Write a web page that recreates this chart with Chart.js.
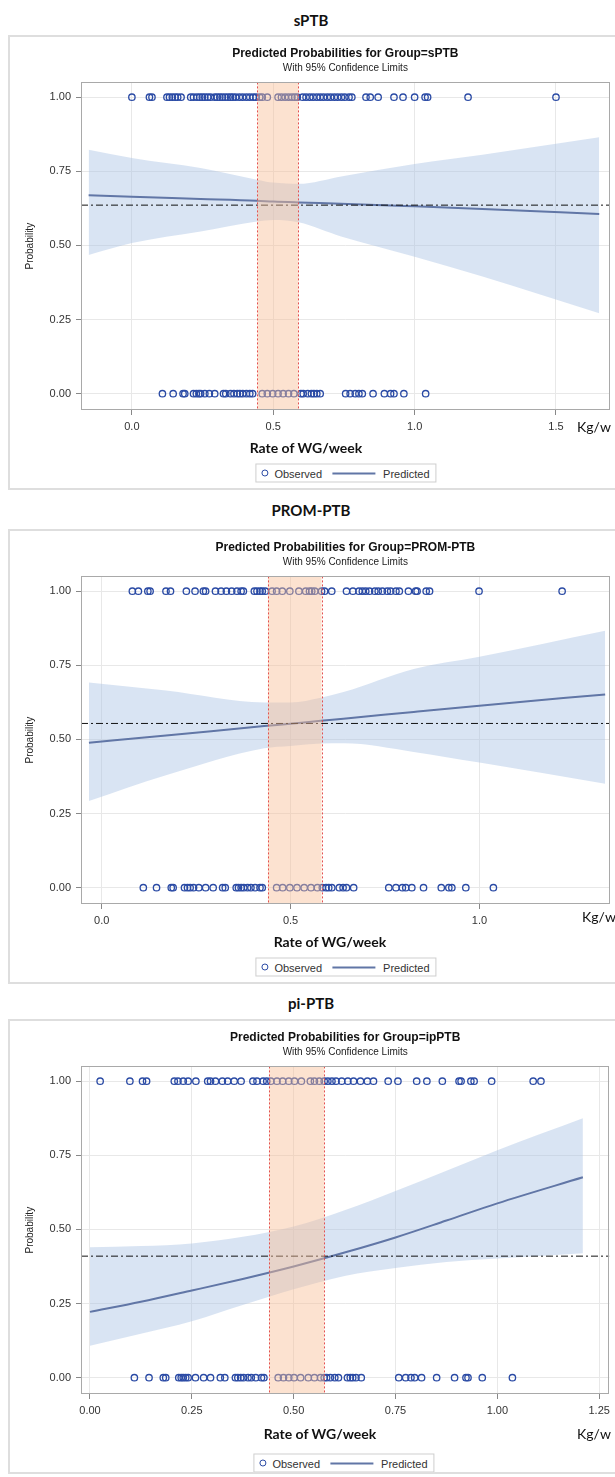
<!DOCTYPE html>
<html>
<head>
<meta charset="utf-8">
<script src="https://cdn.jsdelivr.net/npm/chart.js@4.4.0/dist/chart.umd.min.js"></script>
<style>
  body {
    margin: 0;
    width: 615px;
    height: 1477px;
    overflow: hidden;
    background: #fff;
    position: relative;
    font-family: "Liberation Sans", Arial, sans-serif;
  }
  .heading {
    position: absolute;
    left: 0;
    width: 622px;
    text-align: center;
    font-family: Lato, "Open Sans", sans-serif;
    font-weight: 700;
    font-size: 15px;
    line-height: 18px;
    color: #111;
  }
  .panel {
    position: absolute;
    left: 8px;
    width: 620px;
    height: 455px;
    border: 2px solid #dedede;
    box-sizing: border-box;
  }
  canvas {
    position: absolute;
    left: 8px;
  }
  .xtitle {
    position: absolute;
    transform: translate(-50%, -50%);
    font-family: Lato, sans-serif;
    font-weight: 700;
    font-size: 14px;
    color: #111;
    white-space: nowrap;
  }
  .unit {
    position: absolute;
    transform: translateY(-50%);
    font-family: Lato, sans-serif;
    font-size: 14px;
    color: #111;
  }
  .legend {
    position: absolute;
    transform: translate(-50%, -50%);
    display: flex;
    align-items: center;
    height: 17px;
    padding: 0 6px 0 5px;
    border: 1px solid #cfcfcf;
    font-size: 11px;
    color: #333;
    background: #fff;
    white-space: nowrap;
  }
  .legend .dot {
    width: 5px;
    height: 5px;
    border: 1.4px solid #2b4ba5;
    border-radius: 50%;
    margin-right: 6px;
  }
  .legend .line {
    width: 43px;
    height: 2px;
    background: #6176a6;
    margin: 0 8px 0 10px;
  }
</style>
</head>
<body>

<div class="heading" style="top:11px">sPTB</div>
<div class="panel" style="top:35px"></div>
<canvas id="sptbChart" width="607" height="455" style="top:35px"></canvas>
<div class="xtitle" style="left:306px; top:447px">Rate of WG/week</div>
<div class="unit" style="left:577px; top:426px">Kg/w</div>
<div class="legend" style="left:346px; top:473px"><span class="dot"></span>Observed<span class="line"></span>Predicted</div>

<div class="heading" style="top:501px">PROM-PTB</div>
<div class="panel" style="top:529px"></div>
<canvas id="promChart" width="607" height="455" style="top:529px"></canvas>
<div class="xtitle" style="left:330px; top:941px">Rate of WG/week</div>
<div class="unit" style="left:582px; top:916px">Kg/w</div>
<div class="legend" style="left:346px; top:967px"><span class="dot"></span>Observed<span class="line"></span>Predicted</div>

<div class="heading" style="top:994px">pi-PTB</div>
<div class="panel" style="top:1019px"></div>
<canvas id="ipChart" width="607" height="455" style="top:1019px"></canvas>
<div class="xtitle" style="left:320px; top:1433px">Rate of WG/week</div>
<div class="unit" style="left:577px; top:1433px">Kg/w</div>
<div class="legend" style="left:344px; top:1463px"><span class="dot"></span>Observed<span class="line"></span>Predicted</div>

<script>
// shared y axis
const probTicks = [0, 0.25, 0.5, 0.75, 1];
const probLabels = ["0.00", "0.25", "0.50", "0.75", "1.00"];

// sPTB
const sptbCurveX = [-0.153, 0, 0.243, 0.442, 0.5, 0.59, 0.74, 1.0, 1.24, 1.653];
const sptbPred = [0.669, 0.664, 0.657, 0.651, 0.648, 0.645, 0.641, 0.632, 0.623, 0.606];
const sptbUpper = [0.823, 0.795, 0.761, 0.722, 0.712, 0.708, 0.733, 0.775, 0.806, 0.865];
const sptbLower = [0.468, 0.508, 0.547, 0.581, 0.586, 0.578, 0.53, 0.462, 0.395, 0.271];
const sptbObs1 = [0, 0.062, 0.071, 0.124, 0.133, 0.143, 0.153, 0.162, 0.174, 0.208, 0.218, 0.23,
  0.24, 0.249, 0.258, 0.268, 0.278, 0.293, 0.302, 0.311, 0.32, 0.33, 0.34, 0.349, 0.357, 0.367,
  0.38, 0.392, 0.405, 0.417, 0.429, 0.439, 0.452, 0.461, 0.479, 0.517, 0.529, 0.542, 0.554,
  0.566, 0.576, 0.585, 0.604, 0.616, 0.629, 0.641, 0.654, 0.666, 0.678, 0.691, 0.703, 0.716,
  0.728, 0.741, 0.753, 0.768, 0.778, 0.828, 0.843, 0.871, 0.927, 0.959, 1.0, 1.037, 1.046,
  1.189, 1.5];
const sptbObs0 = [0.108, 0.146, 0.181, 0.187, 0.218, 0.228, 0.237, 0.243, 0.258, 0.274, 0.293,
  0.324, 0.332, 0.349, 0.361, 0.373, 0.382, 0.392, 0.405, 0.417, 0.427, 0.461, 0.479, 0.498,
  0.517, 0.535, 0.554, 0.573, 0.598, 0.606, 0.622, 0.635, 0.644, 0.654, 0.666, 0.756, 0.772,
  0.79, 0.803, 0.815, 0.853, 0.893, 0.915, 0.927, 0.962, 1.039];
const sptbRef = 0.636;
const sptbShade = [0.444, 0.589];
const sptbXRange = [-0.18, 1.69];
const sptbXTicks = [0, 0.5, 1.0, 1.5];
const sptbXLabels = ["0.0", "0.5", "1.0", "1.5"];

// PROM-PTB
const promCurveX = [-0.034, 0.17, 0.43, 0.5, 0.58, 0.64, 0.826, 1.0, 1.333];
const promPred = [0.489, 0.513, 0.545, 0.553, 0.563, 0.57, 0.593, 0.614, 0.652];
const promUpper = [0.692, 0.665, 0.625, 0.625, 0.641, 0.66, 0.738, 0.779, 0.867];
const promLower = [0.292, 0.379, 0.47, 0.478, 0.486, 0.487, 0.458, 0.422, 0.351];
const promObs1 = [0.081, 0.097, 0.122, 0.128, 0.17, 0.182, 0.224, 0.247, 0.269, 0.275, 0.301,
  0.316, 0.33, 0.344, 0.358, 0.369, 0.375, 0.404, 0.411, 0.419, 0.425, 0.433, 0.451, 0.463,
  0.478, 0.498, 0.522, 0.54, 0.55, 0.556, 0.564, 0.582, 0.59, 0.609, 0.648, 0.665, 0.681,
  0.69, 0.699, 0.709, 0.723, 0.732, 0.743, 0.756, 0.765, 0.779, 0.788, 0.812, 0.831, 0.835,
  0.859, 0.868, 0.999, 1.219];
const promObs0 = [0.11, 0.145, 0.184, 0.189, 0.219, 0.227, 0.234, 0.243, 0.257, 0.275, 0.295,
  0.32, 0.327, 0.356, 0.362, 0.369, 0.376, 0.386, 0.395, 0.406, 0.419, 0.425, 0.463, 0.479,
  0.498, 0.517, 0.536, 0.554, 0.571, 0.584, 0.594, 0.601, 0.609, 0.629, 0.639, 0.648, 0.667,
  0.76, 0.779, 0.796, 0.805, 0.821, 0.852, 0.899, 0.919, 0.927, 0.964, 1.037];
const promRef = 0.554;
const promShade = [0.44, 0.582];
const promXRange = [-0.055, 1.345];
const promXTicks = [0, 0.5, 1.0];
const promXLabels = ["0.0", "0.5", "1.0"];

// pi-PTB (Group=ipPTB)
const ipCurveX = [0, 0.125, 0.25, 0.375, 0.5, 0.625, 0.75, 0.875, 1.0, 1.21];
const ipPred = [0.222, 0.256, 0.294, 0.333, 0.375, 0.422, 0.473, 0.53, 0.588, 0.676];
const ipUpper = [0.44, 0.444, 0.453, 0.475, 0.51, 0.565, 0.63, 0.698, 0.767, 0.875];
const ipLower = [0.108, 0.148, 0.19, 0.245, 0.298, 0.343, 0.37, 0.39, 0.402, 0.42];
const ipObs1 = [0.025, 0.098, 0.129, 0.139, 0.207, 0.216, 0.229, 0.241, 0.26, 0.289, 0.296,
  0.308, 0.325, 0.338, 0.354, 0.371, 0.4, 0.41, 0.425, 0.434, 0.444, 0.459, 0.473, 0.488,
  0.502, 0.519, 0.541, 0.551, 0.563, 0.575, 0.584, 0.594, 0.604, 0.618, 0.633, 0.647, 0.664,
  0.681, 0.696, 0.732, 0.756, 0.802, 0.827, 0.865, 0.906, 0.911, 0.935, 0.943, 0.986, 1.088,
  1.107];
const ipObs0 = [0.109, 0.145, 0.18, 0.186, 0.218, 0.224, 0.229, 0.235, 0.241, 0.259, 0.279,
  0.296, 0.32, 0.331, 0.357, 0.363, 0.37, 0.377, 0.388, 0.396, 0.407, 0.421, 0.427, 0.462,
  0.475, 0.488, 0.501, 0.517, 0.536, 0.551, 0.566, 0.575, 0.581, 0.59, 0.601, 0.61, 0.632,
  0.639, 0.645, 0.653, 0.666, 0.758, 0.775, 0.788, 0.797, 0.814, 0.851, 0.895, 0.923, 0.928,
  0.963, 1.037];
const ipRef = 0.41;
const ipShade = [0.44, 0.575];
const ipXRange = [-0.022, 1.275];
const ipXTicks = [0, 0.25, 0.5, 0.75, 1.0, 1.25];
const ipXLabels = ["0.00", "0.25", "0.50", "0.75", "1.00", "1.25"];

const sasFont = "'Liberation Sans', Arial, sans-serif";

// orange band between the two red dashed lines + the plot frame
const shadePlugin = {
  id: "rateShade",
  afterDatasetsDraw(chart, args, opts) {
    const { ctx, chartArea, scales } = chart;
    const x0 = scales.x.getPixelForValue(opts.range[0]);
    const x1 = scales.x.getPixelForValue(opts.range[1]);
    ctx.save();
    ctx.fillStyle = "rgba(248, 190, 150, 0.45)";
    ctx.fillRect(x0, chartArea.top, x1 - x0, chartArea.bottom - chartArea.top);
    ctx.strokeStyle = "#e4504f";
    ctx.lineWidth = 1;
    ctx.setLineDash([2, 2]);
    [x0, x1].forEach((x) => {
      ctx.beginPath();
      ctx.moveTo(Math.round(x) + 0.5, chartArea.top);
      ctx.lineTo(Math.round(x) + 0.5, chartArea.bottom);
      ctx.stroke();
    });
    ctx.setLineDash([]);
    ctx.strokeStyle = "#a9a9a9";
    ctx.strokeRect(
      Math.round(chartArea.left) + 0.5,
      Math.round(chartArea.top) + 0.5,
      Math.round(chartArea.width) - 1,
      Math.round(chartArea.height) - 1
    );
    ctx.restore();
  },
};

function toPoints(xs, ys) {
  return xs.map((x, i) => ({ x: x, y: ys[i] }));
}

function makeChart(id, p) {
  new Chart(document.getElementById(id), {
    type: "line",
    data: {
      datasets: [
        {
          label: "Upper",
          data: toPoints(p.curveX, p.upper),
          borderWidth: 0,
          pointRadius: 0,
          backgroundColor: "rgba(170, 195, 228, 0.45)",
          fill: "+1",
          cubicInterpolationMode: "monotone",
          order: 5,
        },
        {
          label: "Lower",
          data: toPoints(p.curveX, p.lower),
          borderWidth: 0,
          pointRadius: 0,
          fill: false,
          cubicInterpolationMode: "monotone",
          order: 5,
        },
        {
          label: "Predicted",
          data: toPoints(p.curveX, p.pred),
          borderColor: "#6176a6",
          borderWidth: 2,
          pointRadius: 0,
          fill: false,
          cubicInterpolationMode: "monotone",
          order: 3,
        },
        {
          label: "Reference",
          data: toPoints(p.xRange, [p.ref, p.ref]),
          borderColor: "#111",
          borderWidth: 1,
          borderDash: [7, 3, 2, 3],
          pointRadius: 0,
          fill: false,
          order: 2,
        },
        {
          label: "Observed",
          data: p.obs1.map((x) => ({ x: x, y: 1 })),
          showLine: false,
          pointRadius: 3.2,
          pointBorderWidth: 1.3,
          pointBorderColor: "#2b4ba5",
          pointBackgroundColor: "rgba(255,255,255,0)",
          order: 1,
        },
        {
          label: "Observed0",
          data: p.obs0.map((x) => ({ x: x, y: 0 })),
          showLine: false,
          pointRadius: 3.2,
          pointBorderWidth: 1.3,
          pointBorderColor: "#2b4ba5",
          pointBackgroundColor: "rgba(255,255,255,0)",
          order: 1,
        },
      ],
    },
    options: {
      responsive: false,
      animation: false,
      devicePixelRatio: 1,
      layout: { padding: { top: 0, right: 3, bottom: 18, left: 0 } },
      scales: {
        x: {
          type: "linear",
          min: p.xRange[0],
          max: p.xRange[1],
          afterBuildTicks: (s) => {
            s.ticks = p.xTicks.map((v) => ({ value: v }));
          },
          afterFit: (s) => {
            s.height = 62;
          },
          ticks: {
            callback: (v, i) => p.xLabels[i],
            color: "#333",
            font: { size: 11, family: sasFont },
            padding: 5,
            maxRotation: 0,
            autoSkip: false,
          },
          grid: { color: "#e8e8e8", tickColor: "#888", tickLength: 5 },
          border: { display: false },
        },
        y: {
          min: -0.055,
          max: 1.05,
          afterBuildTicks: (s) => {
            s.ticks = probTicks.map((v) => ({ value: v }));
          },
          afterFit: (s) => {
            s.width = 73;
          },
          ticks: {
            callback: (v, i) => probLabels[i],
            color: "#333",
            font: { size: 11, family: sasFont },
            padding: 5,
          },
          grid: { color: "#e8e8e8", tickColor: "#888", tickLength: 5 },
          border: { display: false },
          title: {
            display: true,
            text: "Probability",
            color: "#222",
            font: { size: 10, family: sasFont },
            padding: { top: 16, bottom: 0 },
          },
        },
      },
      plugins: {
        legend: { display: false },
        tooltip: { enabled: false },
        title: {
          display: true,
          fullSize: false,
          text: p.title,
          color: "#111",
          font: { size: 12, weight: "bold", family: sasFont },
          padding: { top: 11, bottom: 1 },
        },
        subtitle: {
          display: true,
          fullSize: false,
          text: "With 95% Confidence Limits",
          color: "#222",
          font: { size: 10, family: sasFont },
          padding: { top: 1, bottom: 8 },
        },
        rateShade: { range: p.shade },
      },
    },
    plugins: [shadePlugin],
  });
}

makeChart("sptbChart", {
  title: "Predicted Probabilities for Group=sPTB",
  curveX: sptbCurveX, pred: sptbPred, upper: sptbUpper, lower: sptbLower,
  obs1: sptbObs1, obs0: sptbObs0, ref: sptbRef, shade: sptbShade,
  xRange: sptbXRange, xTicks: sptbXTicks, xLabels: sptbXLabels,
});

makeChart("promChart", {
  title: "Predicted Probabilities for Group=PROM-PTB",
  curveX: promCurveX, pred: promPred, upper: promUpper, lower: promLower,
  obs1: promObs1, obs0: promObs0, ref: promRef, shade: promShade,
  xRange: promXRange, xTicks: promXTicks, xLabels: promXLabels,
});

makeChart("ipChart", {
  title: "Predicted Probabilities for Group=ipPTB",
  curveX: ipCurveX, pred: ipPred, upper: ipUpper, lower: ipLower,
  obs1: ipObs1, obs0: ipObs0, ref: ipRef, shade: ipShade,
  xRange: ipXRange, xTicks: ipXTicks, xLabels: ipXLabels,
});
</script>
</body>
</html>
